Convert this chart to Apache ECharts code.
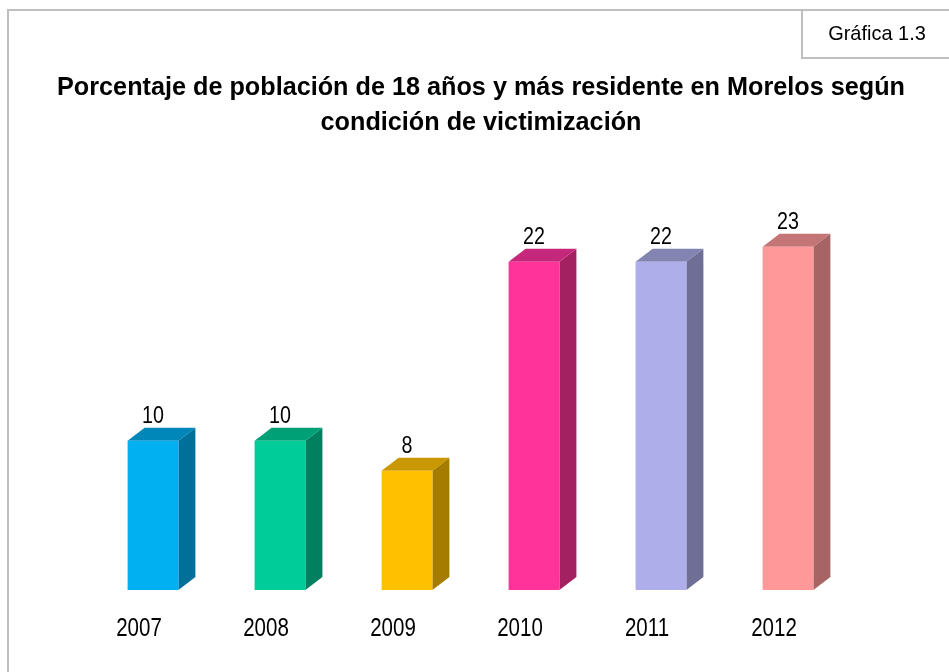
<!DOCTYPE html>
<html>
<head>
<meta charset="utf-8">
<script src="https://cdn.jsdelivr.net/npm/echarts@6/dist/echarts.min.js"></script>
<style>
  html, body { margin: 0; padding: 0; background: #fff; }
  #chart { width: 949px; height: 672px; }
</style>
</head>
<body>
<div id="chart"></div>
<script>
// data
var years = ["2007", "2008", "2009", "2010", "2011", "2012"];
var victimas = [10, 10, 8, 22, 22, 23];

// face colours per bar (front, side, top)
var frontColors = ["#00B0F0", "#00CC99", "#FFC000", "#FF3399", "#AEAEEA", "#FF9999"];
var sideColors = ["#006F99", "#00805F", "#A67C00", "#A32061", "#6F6F96", "#A66464"];
var topColors = ["#0087BA", "#00A077", "#C99700", "#C5287A", "#8484B3", "#C47575"];

var FONT = "'Liberation Sans', Arial, sans-serif";
// the original uses a narrow face; squeeze the regular one instead
var NARROW = 0.82;

var chartDom = document.getElementById("chart");
var myChart = echarts.init(chartDom);

function renderBar(params, api) {
  var i = api.value(0);
  var top = api.coord([i, api.value(1)]);
  var base = api.coord([i, 0]);
  var band = api.size([1, 0])[0];
  var w = band * 0.4;
  var dx = 17, dy = 13;
  var x0 = top[0] - w / 2;
  var x1 = top[0] + w / 2;
  return {
    type: "group",
    children: [
      {
        type: "polygon",
        shape: { points: [[x1, top[1]], [x1 + dx, top[1] - dy], [x1 + dx, base[1] - dy], [x1, base[1]]] },
        style: { fill: sideColors[i] },
      },
      {
        type: "polygon",
        shape: { points: [[x0, top[1]], [x0 + dx, top[1] - dy], [x1 + dx, top[1] - dy], [x1, top[1]]] },
        style: { fill: topColors[i] },
      },
      {
        type: "rect",
        shape: { x: x0, y: top[1], width: w, height: base[1] - top[1] },
        style: { fill: frontColors[i] },
      },
      {
        // value label
        type: "text",
        x: top[0],
        y: top[1] - dy + 1,
        scaleX: NARROW,
        style: {
          text: String(api.value(1)),
          fill: "#000",
          font: "24px " + FONT,
          align: "center",
          verticalAlign: "bottom",
        },
      },
      {
        // category label
        type: "text",
        x: base[0] - 14,
        y: base[1] + 39,
        scaleX: NARROW,
        style: {
          text: years[i],
          fill: "#000",
          font: "25px " + FONT,
          align: "center",
          verticalAlign: "middle",
        },
      },
    ],
  };
}

var option = {
  animation: false,
  backgroundColor: "#fff",
  grid: {
    left: 89.5,
    right: 97.5,
    top: 217,
    bottom: 82,
  },
  xAxis: {
    type: "category",
    data: years,
    axisLine: { show: false },
    axisTick: { show: false },
    axisLabel: { show: false },
  },
  yAxis: {
    type: "value",
    min: 0,
    max: 25,
    show: false,
    splitLine: { show: false },
  },
  graphic: [
    {
      type: "rect",
      shape: { x: 8, y: 10, width: 1000, height: 700 },
      style: { fill: "none", stroke: "#BFBFBF", lineWidth: 2 },
      silent: true,
    },
    {
      type: "rect",
      shape: { x: 802, y: 10, width: 200, height: 48 },
      style: { fill: "#fff", stroke: "#BFBFBF", lineWidth: 2 },
      silent: true,
    },
    {
      type: "text",
      x: 877,
      y: 34,
      scaleX: 0.95,
      style: {
        text: "Gráfica 1.3",
        font: "21px " + FONT,
        fill: "#000",
        align: "center",
        verticalAlign: "middle",
      },
    },
    {
      type: "text",
      x: 481,
      y: 105,
      scaleX: 0.97,
      style: {
        text: "Porcentaje de población de 18 años y más residente en Morelos según\ncondición de victimización",
        font: "bold 26px " + FONT,
        lineHeight: 35,
        fill: "#000",
        align: "center",
        verticalAlign: "middle",
      },
    },
  ],
  series: [
    {
      type: "custom",
      renderItem: renderBar,
      data: victimas.map(function(v, i) { return [i, v]; }),
      encode: { x: 0, y: 1 },
    },
  ],
};

myChart.setOption(option);
</script>
</body>
</html>
